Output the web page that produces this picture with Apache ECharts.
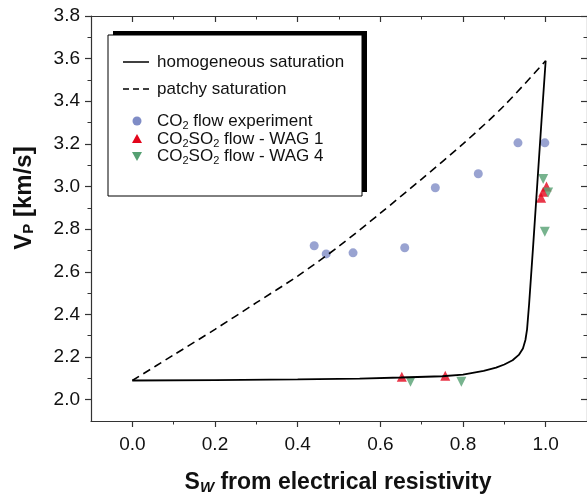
<!DOCTYPE html>
<html>
<head>
<meta charset="utf-8">
<title>Vp vs Sw</title>
<script src="https://cdn.jsdelivr.net/npm/echarts@6/dist/echarts.min.js"></script>
<style>
  html, body { margin: 0; padding: 0; background: #fff; }
  #chartBox { width: 587px; height: 496px; }
</style>
</head>
<body>
<div id="chartBox"></div>
<script>
// tick positions
const xTicks = [0.0, 0.2, 0.4, 0.6, 0.8, 1.0];
const xMinorTicks = [0.1, 0.3, 0.5, 0.7, 0.9];
const yTicks = [2.0, 2.2, 2.4, 2.6, 2.8, 3.0, 3.2, 3.4, 3.6, 3.8];
const yMinorTicks = [2.1, 2.3, 2.5, 2.7, 2.9, 3.1, 3.3, 3.5, 3.7];

// model curves
const homogeneous = [
  [0, 2.09], [0.2, 2.092], [0.4, 2.095], [0.55, 2.099], [0.65, 2.104],
  [0.75, 2.11], [0.8, 2.118], [0.85, 2.135], [0.88, 2.15], [0.9, 2.165],
  [0.92, 2.185], [0.935, 2.21], [0.945, 2.24], [0.951, 2.28], [0.955, 2.33],
  [0.96, 2.45], [0.97, 2.73], [0.98, 3.02], [0.99, 3.31], [1.0, 3.59]
];
const patchy = [
  [0, 2.09], [0.1, 2.21], [0.2, 2.33], [0.3, 2.455], [0.4, 2.58],
  [0.5, 2.72], [0.6, 2.875], [0.7, 3.035], [0.8, 3.2], [0.9, 3.38], [1.0, 3.59]
];

// measurements
const co2Flow = [
  [0.44, 2.722], [0.469, 2.684], [0.534, 2.689], [0.659, 2.713],
  [0.733, 2.994], [0.837, 3.06], [0.933, 3.205], [0.998, 3.205]
];
const wag1 = [
  [0.652, 2.108], [0.757, 2.112], [0.989, 2.947], [0.994, 2.975], [1.002, 3.0]
];
const wag4 = [
  [0.673, 2.084], [0.796, 2.084], [0.994, 3.035], [1.006, 2.972], [0.998, 2.788]
];

const blue = "#7f8cc6";
const red = "#e3051b";
const green = "#55a072";
const axisColor = "#333";

var chart = echarts.init(document.getElementById("chartBox"));

function tickFmt(v) {
  return Number(v).toFixed(1);
}

// one axis helper so the box / ticks stay the same on every side
function makeAxis(pos, min, max, major, minor, withLabels, inside) {
  return [
    {
      type: "value", position: pos, min: min, max: max,
      axisLine: { show: true, onZero: false, lineStyle: { color: axisColor, width: 1.2 } },
      axisTick: { show: true, inside: inside, length: 6, customValues: major,
        lineStyle: { color: axisColor, width: 1.2 } },
      axisLabel: withLabels
        ? { show: true, customValues: major, formatter: tickFmt, color: "#111",
            fontSize: 19, fontFamily: "Liberation Sans, Arial", margin: pos === "left" ? 11 : 14 }
        : { show: false },
      splitLine: { show: false }
    },
    {
      type: "value", position: pos, min: min, max: max,
      axisLine: { show: false, onZero: false },
      axisTick: { show: true, inside: inside, length: 3.5, customValues: minor,
        lineStyle: { color: axisColor, width: 1 } },
      axisLabel: { show: false },
      splitLine: { show: false }
    }
  ];
}

const legendFont = "17px Liberation Sans, Arial";
const subRich = {
  sub: { fontSize: 11, fontFamily: "Liberation Sans, Arial", padding: [9, 0, 0, 0], fill: "#111" }
};

function legendText(y, txt) {
  return {
    type: "text", x: 157, y: y, z: 12,
    style: { text: txt, font: legendFont, fill: "#111", verticalAlign: "middle", rich: subRich }
  };
}

var option = {
  animation: false,
  backgroundColor: "#fff",
  grid: { left: 91, right: -4, top: 16, bottom: 75 },
  xAxis: makeAxis("bottom", -0.1, 1.1, xTicks, xMinorTicks, true, false)
    .concat(makeAxis("top", -0.1, 1.1, xTicks, xMinorTicks, false, true)),
  yAxis: makeAxis("left", 1.9, 3.8, yTicks, yMinorTicks, true, false)
    .concat(makeAxis("right", 1.9, 3.8, yTicks, yMinorTicks, false, true)),
  series: [
    {
      name: "homogeneous saturation", type: "line", data: homogeneous,
      showSymbol: false, symbol: "none",
      lineStyle: { color: "#000", width: 1.8 }
    },
    {
      name: "patchy saturation", type: "line", data: patchy,
      showSymbol: false, symbol: "none", smooth: 0.3,
      lineStyle: { color: "#000", width: 1.6, type: [8, 5] }
    },
    {
      name: "CO2 flow experiment", type: "scatter", data: co2Flow,
      symbol: "circle", symbolSize: 9, itemStyle: { color: blue }
    },
    {
      name: "CO2SO2 flow - WAG 1", type: "scatter", data: wag1,
      symbol: "triangle", symbolSize: 10, itemStyle: { color: red }
    },
    {
      name: "CO2SO2 flow - WAG 4", type: "scatter", data: wag4,
      symbol: "triangle", symbolRotate: 180, symbolSize: 10, itemStyle: { color: green }
    }
  ],
  graphic: [
    // legend box with the offset black shadow
    { type: "rect", shape: { x: 113, y: 31, width: 254, height: 161 }, style: { fill: "#000" }, z: 10 },
    { type: "rect", shape: { x: 108, y: 35, width: 254, height: 161 },
      style: { fill: "#fff", stroke: "#000", lineWidth: 1 }, z: 11 },
    { type: "line", z: 12, shape: { x1: 123, y1: 62, x2: 149, y2: 62 }, style: { stroke: "#000", lineWidth: 1.5 } },
    legendText(62, "homogeneous saturation"),
    { type: "line", z: 12, shape: { x1: 123, y1: 89, x2: 149, y2: 89 }, style: { stroke: "#000", lineWidth: 1.5, lineDash: [6, 4] } },
    legendText(89, "patchy saturation"),
    { type: "circle", z: 12, shape: { cx: 137, cy: 121, r: 4.5 }, style: { fill: blue } },
    legendText(121, "CO{sub|2} flow experiment"),
    { type: "polygon", z: 12, shape: { points: [[137, 134], [142, 143], [132, 143]] }, style: { fill: red } },
    legendText(139, "CO{sub|2}SO{sub|2} flow - WAG 1"),
    { type: "polygon", z: 12, shape: { points: [[132, 152], [142, 152], [137, 161]] }, style: { fill: green } },
    legendText(156, "CO{sub|2}SO{sub|2} flow - WAG 4"),
    // axis titles
    {
      type: "text", x: 338, y: 483, z: 12,
      style: {
        text: "S{subi|W} from electrical resistivity",
        font: "bold 23px Liberation Sans, Arial", fill: "#111",
        align: "center", verticalAlign: "middle",
        rich: { subi: { fontSize: 15, fontStyle: "italic", fontWeight: "bold", fontFamily: "Liberation Sans, Arial", padding: [10, 0, 0, 0], fill: "#111" } }
      }
    },
    {
      type: "text", x: 24, y: 198, rotation: Math.PI / 2, z: 12,
      style: {
        text: "V{sub|P} [km/s]",
        font: "bold 24px Liberation Sans, Arial", fill: "#111",
        align: "center", verticalAlign: "middle",
        rich: { sub: { fontSize: 15, fontWeight: "bold", fontFamily: "Liberation Sans, Arial", padding: [10, 0, 0, 0], fill: "#111" } }
      }
    }
  ]
};

chart.setOption(option);
console.log("chart ready");
</script>
</body>
</html>
